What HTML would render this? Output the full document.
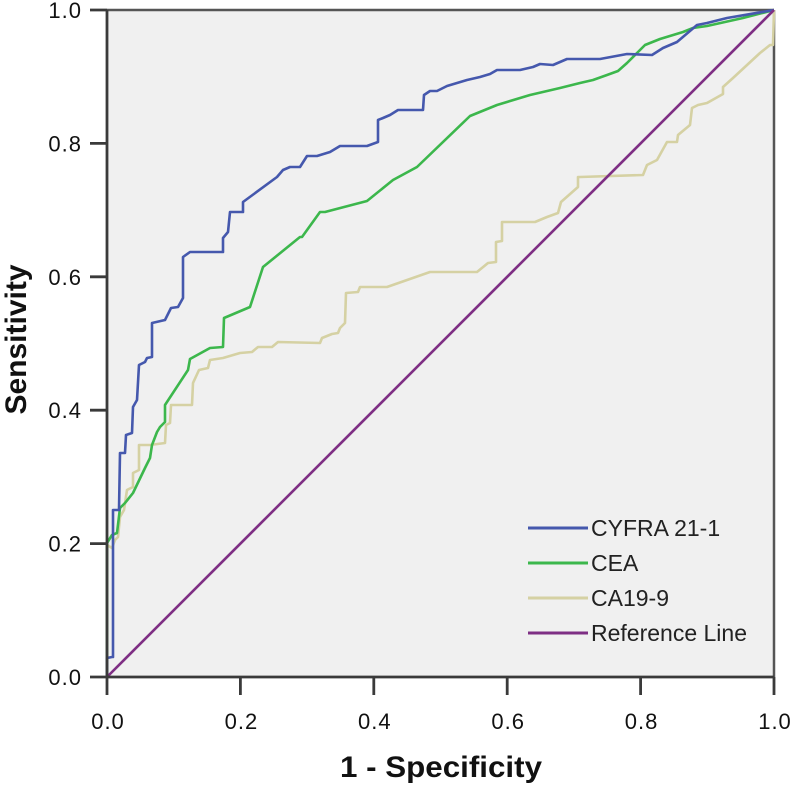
<!DOCTYPE html>
<html>
<head>
<meta charset="utf-8">
<style>
  html, body { margin: 0; padding: 0; background: #ffffff; }
  svg { display: block; }
  text { font-family: "Liberation Sans", Arial, sans-serif; }
</style>
</head>
<body>
<svg width="792" height="785" viewBox="0 0 792 785" xmlns="http://www.w3.org/2000/svg">
  <rect x="0" y="0" width="792" height="785" fill="#ffffff"/>
  <!-- plot background -->
  <rect x="107" y="10" width="667" height="667" fill="#f0f0f0"/>
  <!-- frame top/right -->
  <line x1="107" y1="10" x2="774" y2="10" stroke="#555" stroke-width="2.5"/>
  <line x1="774" y1="10" x2="774" y2="677" stroke="#555" stroke-width="2.5"/>

  <!-- CA19-9 (tan) -->
  <polyline fill="none" stroke="#d5d1a3" stroke-width="2.6" stroke-linejoin="round"
    points="107,677 107,545 112,548 115,540 118,537 120,517 124,510 127,490 133,487 133,473 139,470 139,445 150,445 165,443 166,425 170,423 171,405 192,405 193,383 199,370 208,368 210,360 223,358 240,353 252,352 258,347 272,347 278,342 320,343 322,338 332,334 338,333 340,328 345,323 346,293 358,292 360,287 387,287 430,272 477,272 488,263 496,262 496,242 502,241 502,222 535,222 547,217 558,213 561,202 578,187 578,177 580,177 643,175 647,165 657,160 667,142 677,142 678,135 690,125 692,108 698,105 707,103 723,94 723,87 733,78 760,53 770,45 773,45 774,10"/>

  <!-- CEA (green) -->
  <polyline fill="none" stroke="#3cb74c" stroke-width="2.6" stroke-linejoin="round"
    points="107,677 107,543 112,535 117,533 120,508 125,503 133,493 145,468 150,458 152,445 157,432 160,427 165,422 165,405 188,370 190,359 210,348 223,347 224,318 250,307 263,267 300,237 302,237 320,212 325,212 367,201 393,180 417,167 470,116 497,105 530,95 560,88 580,83 593,80 607,75 618,71 627,63 637,53 645,45 660,39 683,32 693,28 707,26 743,18 774,10"/>

  <!-- CYFRA 21-1 (blue) -->
  <polyline fill="none" stroke="#4558ad" stroke-width="2.6" stroke-linejoin="round"
    points="107,677 107,658 112,657 113,657 113,510 119,510 120,453 125,453 126,435 132,433 133,407 137,400 139,365 145,362 147,358 152,357 152,323 165,320 171,308 178,307 183,298 183,257 190,252 223,252 223,238 228,232 230,212 243,212 243,202 277,177 283,170 290,167 300,167 307,156 317,156 330,152 340,146 367,146 378,142 378,120 383,118 390,115 398,110 423,110 424,95 430,91 437,91 447,86 467,80 480,77 490,74 497,70 520,70 533,67 540,64 553,65 560,62 567,59 600,59 627,54 652,55 663,48 677,42 697,25 707,23 727,18 774,10"/>

  <!-- Reference line (purple) -->
  <line x1="107" y1="677" x2="774" y2="10" stroke="#7e2f84" stroke-width="2.6"/>

  <!-- axes left/bottom -->
  <line x1="107" y1="10" x2="107" y2="678" stroke="#3a3a3a" stroke-width="2.8"/>
  <line x1="106" y1="677" x2="774" y2="677" stroke="#3a3a3a" stroke-width="2.8"/>

  <!-- y ticks -->
  <g stroke="#3a3a3a" stroke-width="2.8">
    <line x1="90" y1="10" x2="107" y2="10"/>
    <line x1="90" y1="143.4" x2="107" y2="143.4"/>
    <line x1="90" y1="276.8" x2="107" y2="276.8"/>
    <line x1="90" y1="410.2" x2="107" y2="410.2"/>
    <line x1="90" y1="543.6" x2="107" y2="543.6"/>
    <line x1="90" y1="677" x2="107" y2="677"/>
  </g>
  <!-- x ticks -->
  <g stroke="#3a3a3a" stroke-width="2.8">
    <line x1="107" y1="677" x2="107" y2="695"/>
    <line x1="240.4" y1="677" x2="240.4" y2="695"/>
    <line x1="373.8" y1="677" x2="373.8" y2="695"/>
    <line x1="507.2" y1="677" x2="507.2" y2="695"/>
    <line x1="640.6" y1="677" x2="640.6" y2="695"/>
    <line x1="774" y1="677" x2="774" y2="695"/>
  </g>

  <!-- y tick labels -->
  <g font-size="22" fill="#111" text-anchor="end" letter-spacing="1">
    <text x="82" y="18">1.0</text>
    <text x="82" y="151.4">0.8</text>
    <text x="82" y="284.8">0.6</text>
    <text x="82" y="418.2">0.4</text>
    <text x="82" y="551.6">0.2</text>
    <text x="82" y="685">0.0</text>
  </g>
  <!-- x tick labels -->
  <g font-size="22" fill="#111" text-anchor="middle" letter-spacing="1">
    <text x="108" y="729">0.0</text>
    <text x="241.4" y="729">0.2</text>
    <text x="374.8" y="729">0.4</text>
    <text x="508.2" y="729">0.6</text>
    <text x="641.6" y="729">0.8</text>
    <text x="775" y="729">1.0</text>
  </g>

  <!-- axis titles -->
  <text x="340" y="777" font-size="30" font-weight="bold" fill="#111" textLength="202" lengthAdjust="spacingAndGlyphs">1 - Specificity</text>
  <text transform="translate(26,339.5) rotate(-90)" text-anchor="middle" font-size="30" font-weight="bold" fill="#111">Sensitivity</text>

  <!-- legend -->
  <g stroke-width="3">
    <line x1="528" y1="528" x2="588" y2="528" stroke="#4558ad"/>
    <line x1="528" y1="563" x2="588" y2="563" stroke="#3cb74c"/>
    <line x1="528" y1="598" x2="588" y2="598" stroke="#d5d1a3"/>
    <line x1="528" y1="633" x2="588" y2="633" stroke="#7e2f84"/>
  </g>
  <g font-size="23" fill="#222">
    <text x="591" y="536">CYFRA 21-1</text>
    <text x="591" y="571">CEA</text>
    <text x="591" y="606">CA19-9</text>
    <text x="591" y="641">Reference Line</text>
  </g>
</svg>
</body>
</html>
